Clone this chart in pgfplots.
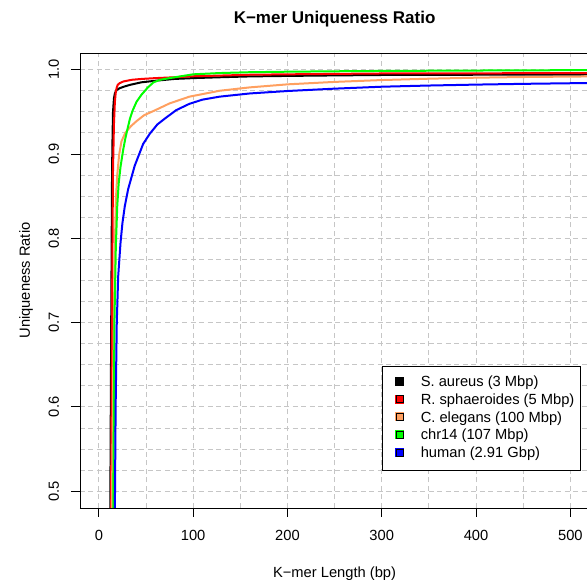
\documentclass[border=0pt]{standalone}
\usepackage{fontspec}
\setmainfont{Liberation Sans}
\usepackage{pgfplots}
\pgfplotsset{compat=1.18}

\definecolor{celeg}{HTML}{FFA060}

\begin{document}
\fontsize{14.7bp}{17bp}\selectfont
\begin{tikzpicture}
\begin{axis}[
  name=ax,
  scale only axis,
  width=509.2bp, height=455bp,
  xmin=-20, xmax=520,
  ymin=0.4801, ymax=1.0198,
  axis x line=box, axis y line=left,
  axis line style={-, line width=0.9bp, black},
  xtick={0,100,200,300,400,500},
  minor xtick={50,150,250,350,450},
  ytick={0.5,0.6,0.7,0.8,0.9,1.0},
  minor ytick={0.525,0.55,0.575,0.625,0.65,0.675,0.725,0.75,0.775,0.825,0.85,0.875,0.925,0.95,0.975},
  xtick pos=left, ytick pos=left,
  tick align=outside,
  major tick length=9bp, minor tick length=0bp,
  tick style={black, line width=0.9bp},
  grid=both,
  grid style={color=gray!45, dash pattern=on 5bp off 3.5bp, line width=0.9bp},
  /pgf/number format/assume math mode=true,
  x tick label style={anchor=base, inner sep=0pt, yshift=-24bp},
  y tick label style={/pgf/number format/fixed, /pgf/number format/fixed zerofill,
    /pgf/number format/precision=1, xshift=-12bp, rotate=90, anchor=base, inner sep=0pt},
  every axis x label/.style={at={(axis description cs:0.5,-0.1523)}, anchor=base},
  every axis y label/.style={at={(axis description cs:-0.0982,0.5)}, rotate=90, anchor=base},
  every axis title/.style={at={(axis description cs:0.5,1.0653)}, anchor=base,
    font=\bfseries\fontsize{17bp}{20bp}\selectfont},
  title={K−mer Uniqueness Ratio},
  xlabel={K−mer Length (bp)},
  ylabel={Uniqueness Ratio},
  legend cell align=left,
  legend style={at={(0.5931,0.3121)}, anchor=north west, draw=black, line width=0.6bp,
    inner xsep=6bp, inner ysep=9.5bp, row sep=4.4bp, column sep=16.5bp,
    font=\fontsize{14.7bp}{17bp}\selectfont,
    nodes={inner sep=0pt, text height=10.5bp, text depth=3bp}},
  legend image code/.code={
    \path (0bp,-5bp) (14bp,5bp);
    \fill[#1] (6.5bp,-2.1bp) rectangle (13.5bp,4.9bp);
    \draw[black, line width=0.5bp] (6.5bp,-2.1bp) rectangle (13.5bp,4.9bp);
  },
]

% S. aureus
\addplot[black, line width=2bp, no markers] coordinates {
 (9,0.05) (12,0.45) (13,0.68) (14,0.88) (14.5,0.92) (15,0.95) (16,0.966) (17,0.972)
 (19,0.976) (22,0.978) (27,0.980) (33,0.982) (45,0.985) (61,0.987) (80,0.989)
 (100,0.990) (128,0.991) (160,0.992) (200,0.9926) (250,0.9932) (300,0.9937)
 (400,0.994) (520,0.9943)
};
\addlegendentry{S. aureus (3 Mbp)}

% R. sphaeroides
\addplot[red, line width=2bp, no markers] coordinates {
 (10,0.05) (13,0.50) (14,0.72) (15,0.88) (16,0.935) (17,0.962) (18,0.974) (19,0.979)
 (20,0.982) (22,0.984) (26,0.986) (35,0.988) (45,0.989) (60,0.990) (80,0.991)
 (100,0.9922) (128,0.993) (160,0.994) (200,0.9945) (250,0.995) (300,0.9955)
 (400,0.9957) (520,0.996)
};
\addlegendentry{R. sphaeroides (5 Mbp)}

% C. elegans
\addplot[celeg, line width=2bp, no markers] coordinates {
 (11,0.05) (14,0.50) (15,0.62) (16,0.71) (17,0.79) (18,0.845) (19.5,0.875) (21.5,0.899)
 (24,0.915) (28,0.925) (34,0.933) (40,0.939) (48,0.946) (58,0.951) (75,0.960)
 (96,0.968) (128,0.975) (160,0.979) (200,0.9826) (250,0.9855) (300,0.9877)
 (350,0.9893) (400,0.9905) (450,0.9913) (520,0.992)
};
\addlegendentry{C. elegans (100 Mbp)}

% chr14
\addplot[green, line width=2bp, no markers] coordinates {
 (13,0.05) (15.3,0.48) (16.5,0.70) (18,0.79) (19.5,0.838) (21,0.865) (23,0.885)
 (25.8,0.905) (28,0.918) (30,0.928) (33,0.942) (36,0.952) (40,0.962) (45,0.970)
 (52,0.979) (58,0.985) (65,0.988) (75,0.990) (86,0.992) (100,0.9945) (128,0.996)
 (160,0.997) (200,0.9976) (250,0.9981) (300,0.9985) (400,0.999) (520,0.9995)
};
\addlegendentry{chr14 (107 Mbp)}

% human
\addplot[blue, line width=2bp, no markers] coordinates {
 (14,0.05) (17,0.48) (17.8,0.60) (19,0.70) (20.5,0.755) (23,0.795) (25,0.818)
 (27.5,0.838) (31,0.858) (34.5,0.872) (38,0.886) (42.5,0.899) (47,0.912) (54,0.924)
 (62,0.935) (70,0.942) (82,0.952) (96,0.9595) (110,0.9645) (128,0.968) (160,0.9718)
 (200,0.9747) (250,0.9775) (300,0.9798) (350,0.9812) (400,0.9823) (450,0.9832)
 (520,0.9842)
};
\addlegendentry{human (2.91 Gbp)}

\end{axis}
\pgfresetboundingbox
\path[use as bounding box] ([shift={(-80bp,-72bp)}]ax.south west) rectangle ++(587bp,580bp);
\end{tikzpicture}
\end{document}
